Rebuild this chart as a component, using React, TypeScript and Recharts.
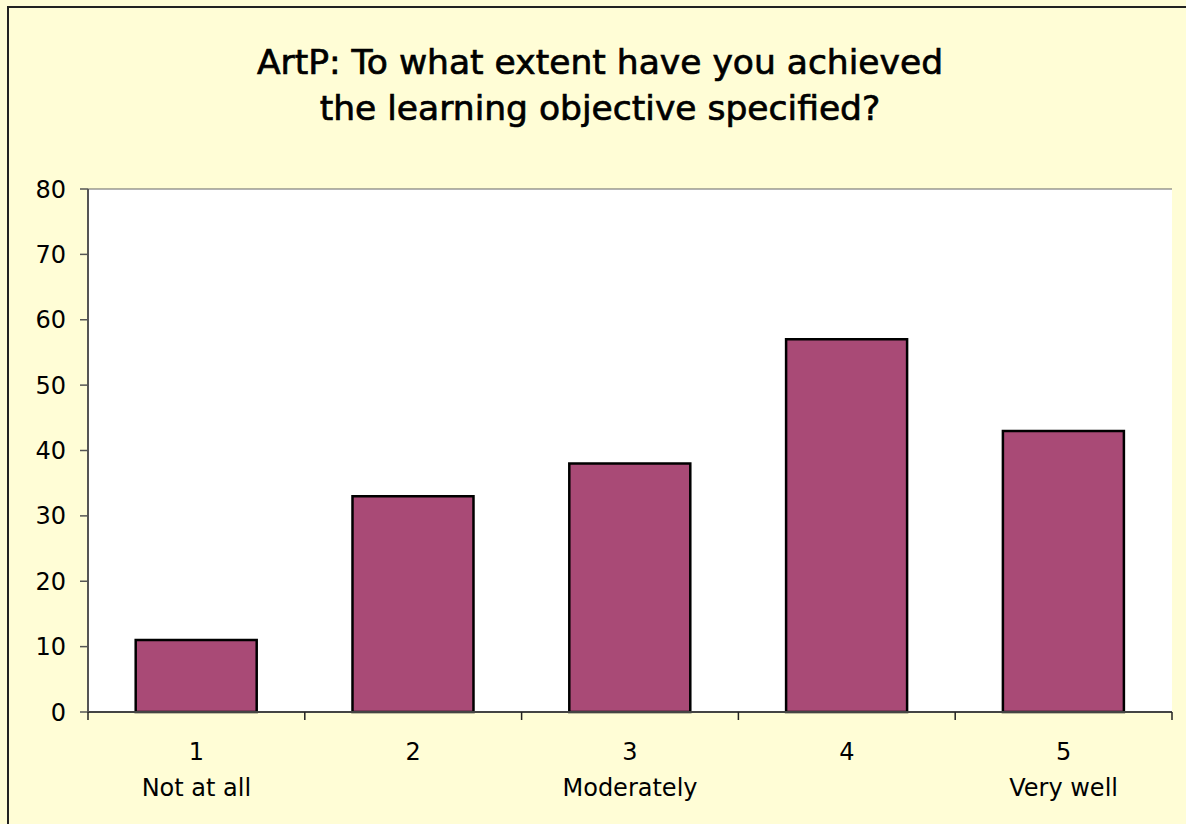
import React from "react";
import {
  BarChart,
  Bar,
  XAxis,
  YAxis,
  CartesianGrid,
} from "recharts";

const categories = ["1", "2", "3", "4", "5"];
const subLabels = ["Not at all", "", "Moderately", "", "Very well"];
const responses = [11, 33, 38, 57, 43];
const yTicks = [0, 10, 20, 30, 40, 50, 60, 70, 80];
const titleLines = [
  "ArtP: To what extent have you achieved",
  "the learning objective specified?",
];

const data = categories.map((c, i) => ({
  cat: c,
  sub: subLabels[i],
  value: responses[i],
}));

const W = 1186;
const H = 824;
const margin = { top: 189, right: 14, left: 8, bottom: 52 };
const yAxisWidth = 80;
const plotWidth = W - margin.left - margin.right - yAxisWidth;
const band = plotWidth / categories.length;
const font = "'DejaVu Sans', Verdana, sans-serif";

const XTick = (props: any) => {
  const { x, y, payload, index } = props;
  const sub = subLabels[index] || "";
  return (
    <g>
      <line x1={x - band / 2} x2={x - band / 2} y1={y - 8} y2={y} stroke="#222" strokeWidth={1.5} />
      {index === categories.length - 1 && (
        <line x1={x + band / 2} x2={x + band / 2} y1={y - 8} y2={y} stroke="#222" strokeWidth={1.5} />
      )}
      <text x={x} y={y + 40} textAnchor="middle" fontSize={24} fill="#000" fontFamily={font}>
        {payload.value}
      </text>
      {sub && (
        <text x={x} y={y + 76} textAnchor="middle" fontSize={24} fill="#000" fontFamily={font}>
          {sub}
        </text>
      )}
    </g>
  );
};

export default function App() {
  return (
    <div
      style={{
        position: "fixed",
        left: 0,
        top: 0,
        width: W,
        height: H,
        background: "#FFFDD6",
        overflow: "hidden",
      }}
    >
      <div
        style={{
          position: "absolute",
          left: 7,
          top: 6,
          width: W,
          height: H,
          borderLeft: "2px solid #222",
          borderTop: "2px solid #222",
        }}
      />
      <div
        style={{
          position: "absolute",
          left: 0,
          top: 39,
          width: 1200,
          textAlign: "center",
          fontFamily: font,
          fontSize: 34.5,
          lineHeight: "46px",
          color: "#000",
          WebkitTextStroke: "0.7px #000",
        }}
      >
        {titleLines.map((t) => (
          <div key={t}>{t}</div>
        ))}
      </div>
      <div style={{ position: "absolute", left: 0, top: 0 }}>
        <BarChart width={W} height={H} data={data} margin={margin} barCategoryGap="22%">
          <CartesianGrid vertical={false} stroke="#666" strokeWidth={1.2} fill="#fff" fillOpacity={1} />
          <XAxis
            dataKey="cat"
            axisLine={{ stroke: "#444", strokeWidth: 2 }}
            tickLine={false}
            tick={<XTick />}
            height={60}
            interval={0}
          />
          <YAxis
            yAxisId="left"
            domain={[0, 80]}
            ticks={yTicks}
            width={yAxisWidth}
            axisLine={{ stroke: "#555", strokeWidth: 2 }}
            tickLine={{ stroke: "#555", strokeWidth: 1.5 }}
            tickSize={8}
            tickMargin={14}
            tick={{ fontSize: 24, fill: "#000", fontFamily: font }}
            interval={0}
          />
          <YAxis
            yAxisId="right"
            orientation="right"
            domain={[0, 80]}
            width={0}
            tick={false}
            tickLine={false}
            axisLine={{ stroke: "#888", strokeWidth: 2 }}
          />
          <Bar
            yAxisId="left"
            dataKey="value"
            fill="#A94A76"
            stroke="#000"
            strokeWidth={2.5}
            isAnimationActive={false}
          />
        </BarChart>
      </div>
    </div>
  );
}
